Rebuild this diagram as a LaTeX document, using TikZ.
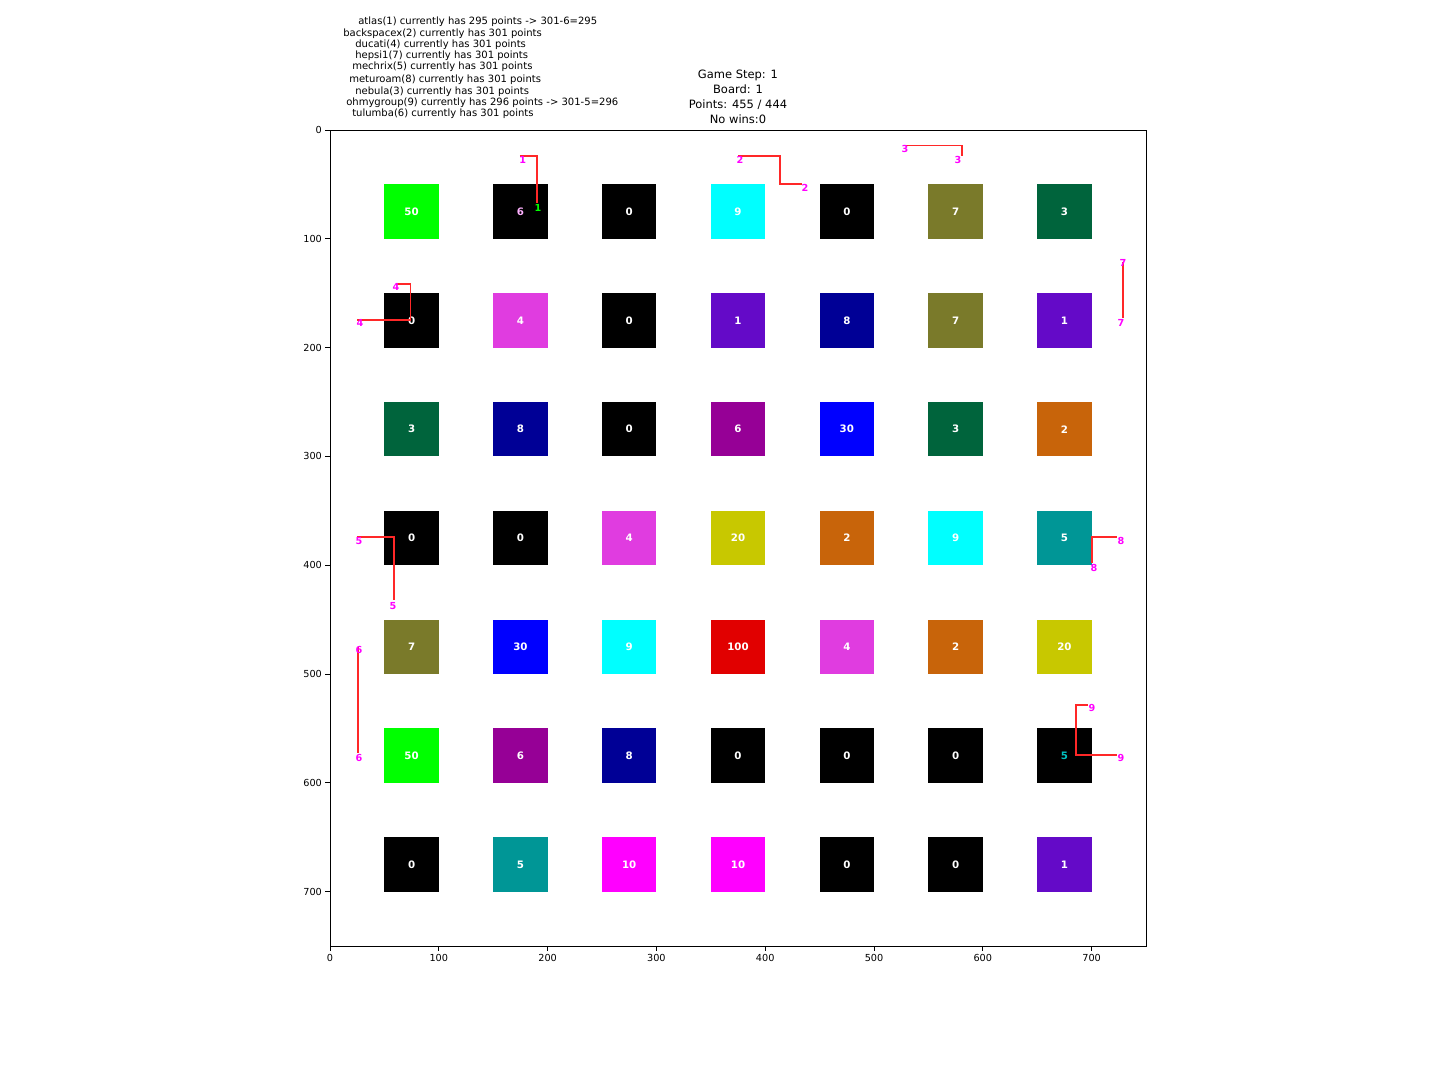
\documentclass[tikz,border=0pt]{standalone}
\usepackage{fontspec}
\setmainfont{DejaVu Sans}
% tile colours
\definecolor{tGreen}{RGB}{0,255,0}
\definecolor{tCyan}{RGB}{0,255,255}
\definecolor{tOlive}{RGB}{122,122,42}
\definecolor{tForest}{RGB}{0,100,60}
\definecolor{tOrchid}{RGB}{224,60,224}
\definecolor{tViolet}{RGB}{100,10,200}
\definecolor{tNavy}{RGB}{0,0,150}
\definecolor{tPlum}{RGB}{150,0,150}
\definecolor{tBlue}{RGB}{0,0,255}
\definecolor{tOrange}{RGB}{200,100,10}
\definecolor{tTeal}{RGB}{0,150,150}
\definecolor{tYellow}{RGB}{200,200,0}
\definecolor{tRed}{RGB}{225,0,0}
\definecolor{tMagenta}{RGB}{255,0,255}
\definecolor{tTrail}{RGB}{255,40,40}
\tikzset{
  tile/.style={fill=#1, minimum size=13.82mm, inner sep=0pt, text=white,
    font=\fontsize{7.4}{8}\selectfont\bfseries},
  agent/.style={text=tMagenta, inner sep=0pt, font=\fontsize{7}{8}\selectfont\bfseries},
  trail/.style={draw=tTrail, line width=1.1pt},
  axis/.style={line width=0.7pt},
  ticklabel/.style={font=\fontsize{7}{8}\selectfont, inner sep=2pt},
  score/.style={anchor=west, inner sep=0pt, font=\fontsize{7.25}{8}\selectfont}
}
\begin{document}
\begin{tikzpicture}[x=0.254mm, y=-0.254mm]
    \useasboundingbox (0,0) rectangle (1440,1080);
    % punteggi dei giocatori
    \node[score] (sc1) at (358,22) {atlas(1) currently has 295 points -> 301-6=295};
    \node[score] (sc2) at (343,34) {backspacex(2) currently has 301 points};
    \node[score] (sc3) at (355,45) {ducati(4) currently has 301 points};
    \node[score] (sc4) at (355,56) {hepsi1(7) currently has 301 points};
    \node[score] (sc5) at (352,67) {mechrix(5) currently has 301 points};
    \node[score] (sc6) at (349,80) {meturoam(8) currently has 301 points};
    \node[score] (sc7) at (355,92) {nebula(3) currently has 301 points};
    \node[score] (sc8) at (346,103) {ohmygroup(9) currently has 296 points -> 301-5=296};
    \node[score] (sc9) at (352,114) {tulumba(6) currently has 301 points};
    % titolo
    \node[align=center, inner sep=0pt, font=\fontsize{8.3}{10.8}\selectfont]
      (ttl) at (738,97) {Game Step: 1\\Board: 1\\Points: 455 / 444\\No wins:0};
    \begin{scope}[shift={(330,130)}, x=0.27635mm, y=-0.27635mm]
    % assi
    \draw[axis] (0,0) rectangle (750,750);
    \foreach \v in {0,100,...,700} {
      \draw[axis] (\v,750) -- +(0pt,-3.5pt) node[below, ticklabel] (xt\v) {\v};
      \draw[axis] (0,\v) -- +(-3.5pt,0pt) node[left, ticklabel] (yt\v) {\v};
    }
    % riga 0
    \node[tile=tGreen] (s00) at (75,75) {50};
    \node[tile=black, text=tMagenta!30!white] (s01) at (175,75) {6};
    \node[tile=black] (s02) at (275,75) {0};
    \node[tile=tCyan] (s03) at (375,75) {9};
    \node[tile=black] (s04) at (475,75) {0};
    \node[tile=tOlive] (s05) at (575,75) {7};
    \node[tile=tForest] (s06) at (675,75) {3};
    % riga 1
    \node[tile=black] (s10) at (75,175) {0};
    \node[tile=tOrchid] (s11) at (175,175) {4};
    \node[tile=black] (s12) at (275,175) {0};
    \node[tile=tViolet] (s13) at (375,175) {1};
    \node[tile=tNavy] (s14) at (475,175) {8};
    \node[tile=tOlive] (s15) at (575,175) {7};
    \node[tile=tViolet] (s16) at (675,175) {1};
    % riga 2
    \node[tile=tForest] (s20) at (75,275) {3};
    \node[tile=tNavy] (s21) at (175,275) {8};
    \node[tile=black] (s22) at (275,275) {0};
    \node[tile=tPlum] (s23) at (375,275) {6};
    \node[tile=tBlue] (s24) at (475,275) {30};
    \node[tile=tForest] (s25) at (575,275) {3};
    \node[tile=tOrange] (s26) at (675,275) {2};
    % riga 3
    \node[tile=black] (s30) at (75,375) {0};
    \node[tile=black] (s31) at (175,375) {0};
    \node[tile=tOrchid] (s32) at (275,375) {4};
    \node[tile=tYellow] (s33) at (375,375) {20};
    \node[tile=tOrange] (s34) at (475,375) {2};
    \node[tile=tCyan] (s35) at (575,375) {9};
    \node[tile=tTeal] (s36) at (675,375) {5};
    % riga 4
    \node[tile=tOlive] (s40) at (75,475) {7};
    \node[tile=tBlue] (s41) at (175,475) {30};
    \node[tile=tCyan] (s42) at (275,475) {9};
    \node[tile=tRed] (s43) at (375,475) {100};
    \node[tile=tOrchid] (s44) at (475,475) {4};
    \node[tile=tOrange] (s45) at (575,475) {2};
    \node[tile=tYellow] (s46) at (675,475) {20};
    % riga 5
    \node[tile=tGreen] (s50) at (75,575) {50};
    \node[tile=tPlum] (s51) at (175,575) {6};
    \node[tile=tNavy] (s52) at (275,575) {8};
    \node[tile=black] (s53) at (375,575) {0};
    \node[tile=black] (s54) at (475,575) {0};
    \node[tile=black] (s55) at (575,575) {0};
    \node[tile=black, text=tTeal!60!cyan] (s56) at (675,575) {5};
    % riga 6
    \node[tile=black] (s60) at (75,675) {0};
    \node[tile=tTeal] (s61) at (175,675) {5};
    \node[tile=tMagenta] (s62) at (275,675) {10};
    \node[tile=tMagenta] (s63) at (375,675) {10};
    \node[tile=black] (s64) at (475,675) {0};
    \node[tile=black] (s65) at (575,675) {0};
    \node[tile=tViolet] (s66) at (675,675) {1};
    % percorsi dei giocatori
    \coordinate (p1a) at (174.6,23.9);
    \coordinate (p1b) at (190.3,23.9);
    \coordinate (p1c) at (190.3,67.2);
    \draw[trail] (p1a) -- (p1b) -- (p1c);
    \node[agent] (l1a) at (177.1,27.6) {1};
    \node[agent, text=tGreen] (l1b) at (191.2,71.7) {1};
    \coordinate (p2a) at (375.0,23.9);
    \coordinate (p2b) at (413.6,23.9);
    \coordinate (p2c) at (413.6,49.6);
    \coordinate (p2d) at (433.8,49.6);
    \draw[trail] (p2a) -- (p2b) -- (p2c) -- (p2d);
    \node[agent] (l2a) at (376.8,27.6) {2};
    \node[agent] (l2b) at (436.6,53.3) {2};
    \coordinate (p3a) at (528.5,14.1);
    \coordinate (p3b) at (580.9,14.1);
    \coordinate (p3c) at (580.9,23.9);
    \draw[trail] (p3a) -- (p3b) -- (p3c);
    \node[agent] (l3a) at (528.5,17.5) {3};
    \node[agent] (l3b) at (577.2,27.6) {3};
    \coordinate (p4a) at (60.7,141.5);
    \coordinate (p4b) at (74.2,141.5);
    \coordinate (p4c) at (74.2,174.6);
    \coordinate (p4d) at (24.8,174.6);
    \draw[trail] (p4a) -- (p4b) -- (p4c) -- (p4d);
    \node[agent] (l4a) at (60.7,144.3) {4};
    \node[agent] (l4b) at (27.6,177.4) {4};
    \coordinate (p5a) at (24.8,374.1);
    \coordinate (p5b) at (58.8,374.1);
    \coordinate (p5c) at (58.8,432.0);
    \draw[trail] (p5a) -- (p5b) -- (p5c);
    \node[agent] (l5a) at (26.7,377.8) {5};
    \node[agent] (l5b) at (57.9,437.5) {5};
    \coordinate (p6a) at (25.5,475.2);
    \coordinate (p6b) at (25.5,572.6);
    \draw[trail] (p6a) -- (p6b);
    \node[agent] (l6a) at (26.7,478.0) {6};
    \node[agent] (l6b) at (26.7,577.2) {6};
    \coordinate (p7a) at (728.9,121.3);
    \coordinate (p7b) at (728.9,172.8);
    \draw[trail] (p7a) -- (p7b);
    \node[agent] (l7a) at (728.9,122.5) {7};
    \node[agent] (l7b) at (727.0,177.4) {7};
    \coordinate (p8a) at (723.3,374.1);
    \coordinate (p8b) at (700.4,374.1);
    \coordinate (p8c) at (700.4,398.0);
    \draw[trail] (p8a) -- (p8b) -- (p8c);
    \node[agent] (l8a) at (727.0,377.8) {8};
    \node[agent] (l8b) at (702.2,402.6) {8};
    \coordinate (p9a) at (696.7,528.5);
    \coordinate (p9b) at (685.7,528.5);
    \coordinate (p9c) at (685.7,574.4);
    \coordinate (p9d) at (723.3,574.4);
    \draw[trail] (p9a) -- (p9b) -- (p9c) -- (p9d);
    \node[agent] (l9a) at (700.4,531.3) {9};
    \node[agent] (l9b) at (727.0,577.2) {9};
    \end{scope}
  \end{tikzpicture}
\end{document}
